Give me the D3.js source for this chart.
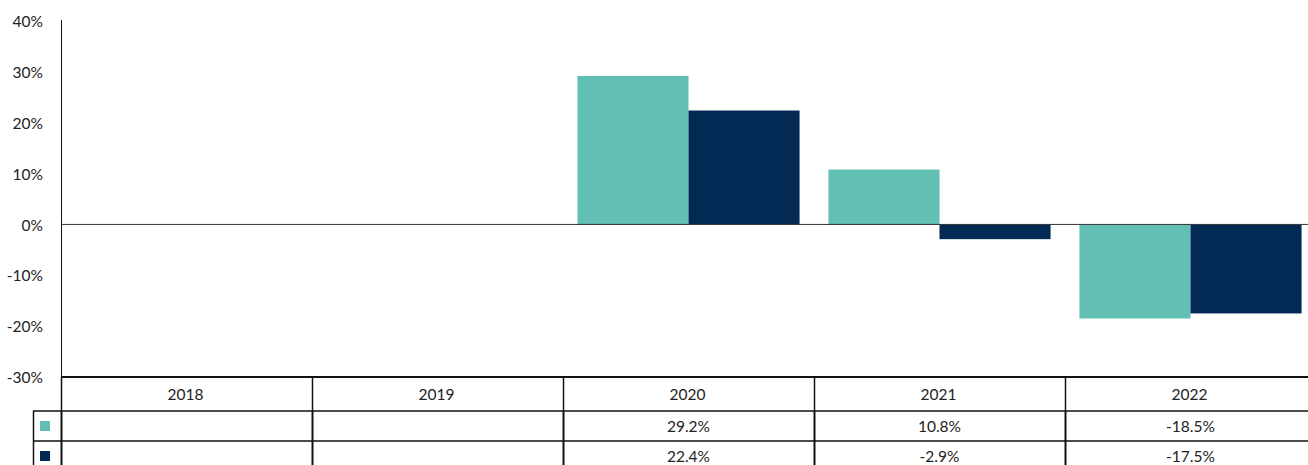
<!DOCTYPE html>
<html><head><meta charset="utf-8">
<script src="https://cdn.jsdelivr.net/npm/d3@7"></script>
<style>body{margin:0;background:#fff;} text{font-family:Lato,"Open Sans",sans-serif;}</style>
</head><body>
<svg id="c" width="1308" height="465"></svg>
<script>
const categories = ["2018","2019","2020","2021","2022"];
const seriesA = [null, null, 29.2, 10.8, -18.5];
const seriesB = [null, null, 22.4, -2.9, -17.5];
const seriesNames = ["A","B"];
const colors = ["#62bfb4","#032a55"];
const yTicks = [-30,-20,-10,0,10,20,30,40];

const svg = d3.select("#c");
const left = 61, right = 1316;
const FS = 15.5;
const x = d3.scaleBand().domain(categories).range([left, right]).paddingInner(0).paddingOuter(0);
const y = d3.scaleLinear().domain([-30, 40]).range([377, 21]);
const inner = d3.scaleBand().domain(seriesNames).range([0, x.bandwidth()]).paddingInner(0).paddingOuter(0.13);

// y axis
const yAxis = d3.axisLeft(y).tickValues(yTicks).tickSize(0).tickPadding(18).tickFormat(d => d + "%");
const ga = svg.append("g").attr("transform", `translate(${left},0)`).call(yAxis);
ga.select(".domain").remove();
ga.selectAll("text").attr("font-size", FS).attr("fill", "#222").attr("font-family", "Lato,'Open Sans',sans-serif").attr("dy", "0.36em");
svg.append("line").attr("x1", left+0.5).attr("x2", left+0.5).attr("y1", 20).attr("y2", 377).attr("stroke", "#111").attr("stroke-width", 1);

// bars
const allSeries = [seriesA, seriesB];
allSeries.forEach((vals, si) => {
  svg.append("g").selectAll("rect").data(categories.map((c,i)=>({c, v: vals[i]})).filter(d => d.v !== null))
    .join("rect")
    .attr("x", d => x(d.c) + inner(seriesNames[si]))
    .attr("width", inner.bandwidth())
    .attr("y", d => y(Math.max(0, d.v)))
    .attr("height", d => Math.abs(y(d.v) - y(0)))
    .attr("fill", colors[si]);
});

// zero line
svg.append("line").attr("x1", left).attr("x2", 1308).attr("y1", y(0)).attr("y2", y(0)).attr("stroke", "#333").attr("stroke-width", 1);

// table
const rowTop = y(-30), headerH = 34, rowH = 30;
const tbl = svg.append("g");
const lineC = "#111";
tbl.append("line").attr("x1", left).attr("x2", 1308).attr("y1", rowTop).attr("y2", rowTop).attr("stroke", lineC).attr("stroke-width", 2);
tbl.append("line").attr("x1", 33).attr("x2", 1308).attr("y1", rowTop+headerH).attr("y2", rowTop+headerH).attr("stroke", lineC).attr("stroke-width", 1.5);
tbl.append("line").attr("x1", 33).attr("x2", 1308).attr("y1", rowTop+headerH+rowH).attr("y2", rowTop+headerH+rowH).attr("stroke", lineC).attr("stroke-width", 1.5);
tbl.append("line").attr("x1", 33.5).attr("x2", 33.5).attr("y1", rowTop+headerH).attr("y2", 465).attr("stroke", lineC).attr("stroke-width", 1.5);
categories.forEach((c, i) => {
  const xx = x(c);
  tbl.append("line").attr("x1", xx+0.5).attr("x2", xx+0.5).attr("y1", rowTop).attr("y2", rowTop+headerH).attr("stroke", lineC).attr("stroke-width", 1.5);
  tbl.append("line").attr("x1", xx+0.5).attr("x2", xx+0.5).attr("y1", rowTop+headerH).attr("y2", 465).attr("stroke", lineC).attr("stroke-width", 2);
});
tbl.selectAll("text.h").data(categories).join("text").attr("class","h")
  .attr("x", d => x(d) + x.bandwidth()/2 - 1).attr("y", rowTop + headerH/2 + 5.5)
  .attr("text-anchor", "middle").attr("font-size", FS).attr("fill", "#222").text(d => d);
allSeries.forEach((vals, si) => {
  const cy = rowTop + headerH + si*rowH + rowH/2;
  tbl.append("rect").attr("x", 40).attr("y", cy - 5).attr("width", 10).attr("height", 10).attr("fill", colors[si]);
  tbl.selectAll(null).data(categories.map((c,i)=>({c, v: vals[i]})).filter(d => d.v !== null)).join("text")
    .attr("x", d => x(d.c) + x.bandwidth()/2).attr("y", cy + 5.5)
    .attr("text-anchor", "middle").attr("font-size", FS).attr("fill", "#222")
    .text(d => d.v.toFixed(1) + "%");
});
</script>
</body></html>
